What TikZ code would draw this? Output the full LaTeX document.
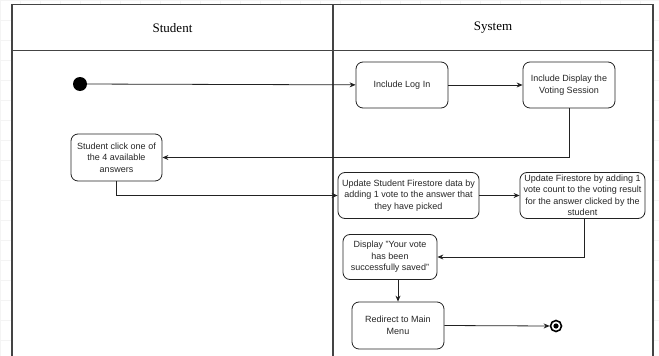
\documentclass[tikz,border=0pt]{standalone}
\usepackage{fontspec}
\setmainfont{Liberation Sans}
\newfontfamily\headfont{Liberation Serif}
\usetikzlibrary{arrows.meta}

\definecolor{lanecol}{HTML}{444444}
\definecolor{linecol}{HTML}{222222}
\definecolor{gridcol}{HTML}{F4F4F4}

\tikzset{
  actbox/.style={draw=linecol, line width=0.8pt, rounded corners=7pt, fill=white,
    align=center, inner sep=0pt, font=\fontsize{9}{11.5}\selectfont, text=black!85},
  flow/.style={draw=linecol, line width=0.8pt, -{Stealth[length=6pt,width=5pt]}},
  lane/.style={draw=lanecol, line width=1.2pt},
  headtext/.style={font=\headfont\fontsize{13}{15}\selectfont, text=black}
}

\begin{document}
\begin{tikzpicture}[x=1pt, y=-1pt]
\useasboundingbox (0,0) rectangle (659,356);
\fill[white] (0,0) rectangle (659,356);

% faint canvas grid
\foreach \gx in {0,20,...,659} \draw[gridcol, line width=0.4pt] (\gx,0) -- (\gx,356);
\foreach \gy in {0,20,...,356} \draw[gridcol, line width=0.4pt] (0,\gy) -- (659,\gy);

% swimlanes
\fill[white] (12,4.5) rectangle (653,360);
\draw[lane] (12,360) -- (12,4.5) -- (653,4.5) -- (653,360);
\draw[lane] (12,50.5) -- (653,50.5);
\draw[lane] (333,4.5) -- (333,360);
\node[headtext] (hstudent) at (172.5,28) {Student};
\node[headtext] (hsystem) at (493,28) {System};

% activity nodes
\node[circle, fill=black, minimum size=14pt, inner sep=0pt] (start) at (80,84) {};
\node[actbox, minimum width=92pt, minimum height=46pt] (login) at (402,85) {Include Log In};
\node[actbox, minimum width=92pt, minimum height=46pt] (display) at (569,85) {Include Display the\\Voting Session};
\node[actbox, minimum width=91pt, minimum height=47pt] (click) at (116.5,157.5) {Student click one of\\the 4 available\\answers};
\node[actbox, minimum width=141pt, minimum height=46pt] (updstu) at (408.5,195.5) {Update Student Firestore data by\\adding 1 vote to the answer that\\they have picked};
\node[actbox, minimum width=125pt, minimum height=46pt] (updfs) at (582.5,195.5) {Update Firestore by adding 1\\vote count to the voting result\\for the answer clicked by the\\student};
\node[actbox, minimum width=94pt, minimum height=45pt] (saved) at (390,257) {Display "Your vote\\has been\\successfully saved"};
\node[actbox, minimum width=92pt, minimum height=47pt] (redirect) at (398,325.5) {Redirect to Main\\Menu};
\node[circle, draw=black, line width=1.6pt, minimum size=11pt, inner sep=0pt] (final) at (556,326) {};
\fill[black] (final.center) circle (2.6pt);

% control flow
\draw[flow] (start) -- (login);
\draw[flow] (login) -- (display);
\draw[flow] (display.south) |- (click.east);
\draw[flow] (click.south) |- (updstu.west);
\draw[flow] (updstu) -- (updfs);
\draw[flow] ([xshift=1.5pt]updfs.south) |- (saved.east);
\draw[flow] (redirect.north |- saved.south) -- (redirect.north);
\draw[flow] (redirect.east) -- (final.west);
\end{tikzpicture}
\end{document}
